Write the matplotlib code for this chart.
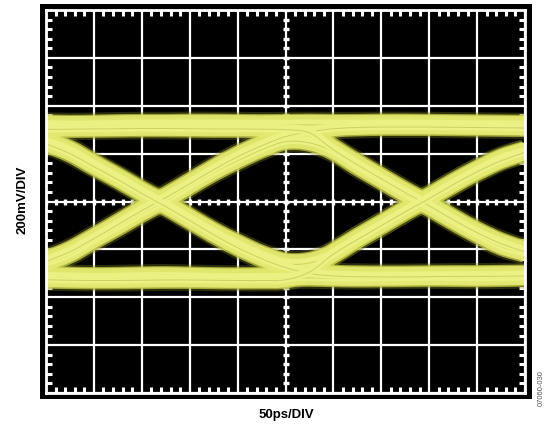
import numpy as np
import matplotlib
matplotlib.use("Agg")
import matplotlib.pyplot as plt
from matplotlib.patches import Rectangle, PathPatch
from matplotlib.path import Path

# time axis (ps), 50 ps/div, 10 divisions
t_ps = [0, 25, 50, 75, 100, 125, 150, 175, 200, 225, 250,
        275, 300, 325, 350, 375, 400, 425, 450, 475, 500]

# traces in mV (200 mV/div)
rail_high = [322, 320, 321, 323, 324, 324, 325, 325, 324, 323, 324,
             325, 324, 324, 325, 325, 324, 323, 322, 321, 320]
rail_low = [-312, -314, -316, -315, -313, -312, -314, -316, -317, -316, -315,
            -314, -316, -317, -316, -315, -314, -315, -316, -315, -313]
# 0 -> 1 -> 0
pulse_up = [-255, -217, -159, -104, -46, 8, 67, 125, 175, 221, 255,
            250, 213, 150, 92, 33, -21, -79, -134, -184, -213]
# 1 -> 0 -> 1
pulse_down = [252, 215, 157, 102, 44, -10, -69, -127, -177, -223, -255,
              -252, -217, -154, -96, -37, 19, 77, 131, 180, 210]
# 0 -> 1 -> 1
rise_first = [-246, -205, -150, -92, -33, 21, 79, 138, 192, 238, 276,
              296, 309, 314, 316, 316, 316, 315, 314, 313, 312]
# 1 -> 0 -> 0
fall_first = [246, 205, 150, 96, 38, -17, -75, -134, -188, -234, -271,
              -296, -306, -309, -310, -310, -309, -308, -308, -307, -306]
# 1 -> 1 -> 0
fall_second = [306, 307, 308, 309, 310, 310, 309, 308, 308, 307, 305,
               292, 221, 159, 100, 42, -13, -71, -125, -171, -205]
# 0 -> 0 -> 1
rise_second = [-322, -324, -325, -325, -324, -323, -323, -324, -325, -325, -322,
               -290, -215, -154, -96, -38, 17, 75, 129, 175, 210]

traces = [rail_high, rail_low, pulse_up, pulse_down,
          rise_first, fall_first, fall_second, rise_second]


def smooth_path(x, y):
    # cubic Bezier through the read points (Catmull-Rom control points)
    p = np.column_stack([x, y]).astype(float)
    ext = np.vstack([p[0], p, p[-1]])
    verts = [p[0]]
    codes = [Path.MOVETO]
    for i in range(len(p) - 1):
        p0, p1, p2, p3 = ext[i], ext[i + 1], ext[i + 2], ext[i + 3]
        verts += [p1 + (p2 - p0) / 6, p2 - (p3 - p1) / 6, p2]
        codes += [Path.CURVE4] * 3
    return Path(verts, codes)


def draw_trace(ax, y, dy, color, lw, alpha, z):
    path = smooth_path(t_ps, np.asarray(y, float) + dy)
    ax.add_patch(PathPatch(path, fill=False, edgecolor=color, lw=lw,
                           alpha=alpha, capstyle="butt", joinstyle="round",
                           zorder=z))


W, H, DPI = 549, 429, 100
fig = plt.figure(figsize=(W / DPI, H / DPI), dpi=DPI)
fig.patch.set_facecolor("white")

# black bezel around the screen
fig.patches.append(Rectangle((40 / W, 30 / H), 492 / W, 395 / H,
                             transform=fig.transFigure, facecolor="black",
                             edgecolor="none", zorder=-5))

ax = fig.add_axes([46 / W, 36 / H, 479 / W, 383 / H])
ax.set_zorder(2)
ax.set_facecolor("black")
ax.set_xlim(0, 500)
ax.set_ylim(-800, 800)

# graticule
ax.set_xticks(np.arange(0, 501, 50))
ax.set_yticks(np.arange(-800, 801, 200))
ax.set_xticks(np.arange(0, 501, 10), minor=True)
ax.set_yticks(np.arange(-800, 801, 40), minor=True)
ax.grid(True, which="major", color="white", lw=1.6, zorder=1)
ax.tick_params(which="both", direction="in", top=True, right=True,
               labelbottom=False, labelleft=False, color="white")
ax.tick_params(which="major", length=0)
ax.tick_params(which="minor", length=4.5, width=2.2)
for s in ax.spines.values():
    s.set_color("white")
    s.set_linewidth(2)
    s.set_zorder(5)

# tick marks on the centre cross
mx = np.arange(0, 501, 10)
my = np.arange(-800, 801, 40)
ax.plot(mx, np.zeros_like(mx), ls="none", marker="|", ms=5, mew=2.4,
        color="white", zorder=2)
ax.plot(np.full_like(my, 250), my, ls="none", marker="_", ms=5, mew=2.4,
        color="white", zorder=2)

# eye traces: fuzzy outer glow, then yellow strands
for tr in traces:
    draw_trace(ax, tr, 0, "#7c8224", 17.5, 0.35, 3)
for tr in traces:
    draw_trace(ax, tr, 0, "#c4ca44", 14.5, 0.75, 3)
for tr in traces:
    draw_trace(ax, tr, 14, "#e2e86e", 8, 0.92, 4)
    draw_trace(ax, tr, -14, "#e4ea74", 7.5, 0.92, 4)
for tr in traces:
    draw_trace(ax, tr, 0, "#ecf284", 6, 0.9, 4)
    draw_trace(ax, tr, -5, "#9aa034", 0.7, 0.4, 4)

fig.text(22 / W, 1 - 200 / H, "200mV/DIV", rotation=90, ha="center",
         va="center", fontsize=9.5, fontweight="bold",
         family="Liberation Sans")
fig.text(286 / W, 1 - 415 / H, "50ps/DIV", ha="center", va="center",
         fontsize=9.5, fontweight="bold", family="Liberation Sans")
fig.text(541 / W, 1 - 388 / H, "07060-030", rotation=90, ha="center",
         va="center", fontsize=5.5, color="#555555",
         family="Liberation Sans")

fig.savefig("out.png", dpi=DPI, facecolor="white")
